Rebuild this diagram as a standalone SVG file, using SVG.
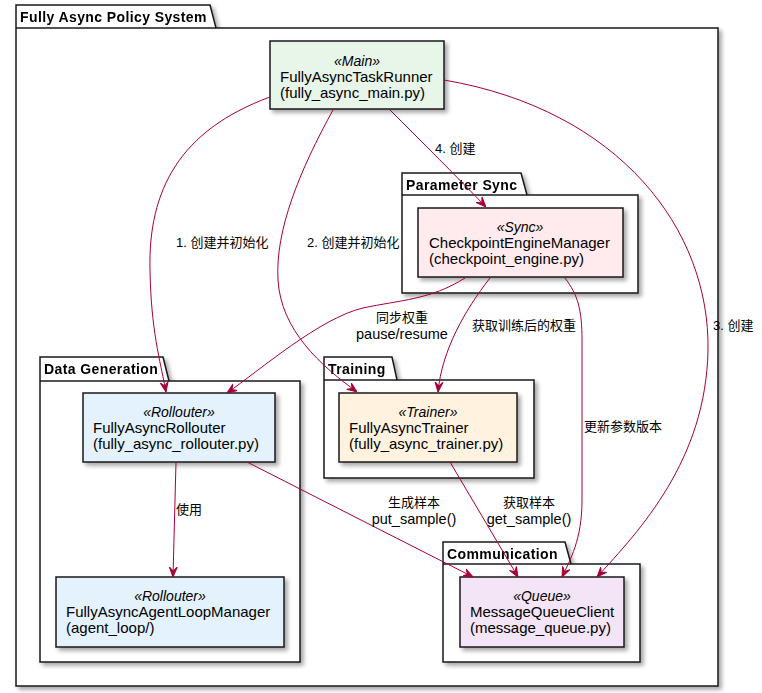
<svg xmlns="http://www.w3.org/2000/svg" width="762" height="693" viewBox="0 0 762 693">
<style>
.pkg{fill:#FFFFFF;stroke:#181818;stroke-width:1.5}
.pt{font-family:"Liberation Sans",Arial,sans-serif;font-size:14px;font-weight:bold;fill:#000;letter-spacing:0.4px}
.node{stroke:#181818;stroke-width:1.5}
.st{font-family:"Liberation Sans",Arial,sans-serif;font-size:14px;font-style:italic;fill:#000;text-anchor:middle}
.nt{font-family:"Liberation Sans",Arial,sans-serif;font-size:15px;fill:#000}
.e{fill:none;stroke:#A80036;stroke-width:1}
.lb{font-family:"Liberation Sans","Noto Sans CJK SC",Arial,sans-serif;font-size:13px;fill:#000}
.la{font-family:"Liberation Sans",Arial,sans-serif;font-size:14.5px;fill:#000}
.c{text-anchor:middle}
</style>
<defs>
<filter id="sh" x="-10%" y="-10%" width="130%" height="130%">
<feDropShadow dx="3" dy="3" stdDeviation="2" flood-color="#000" flood-opacity="0.35"/>
</filter>
<marker id="ah" viewBox="0 0 10 10" refX="10" refY="5" markerWidth="10" markerHeight="10" markerUnits="userSpaceOnUse" orient="auto">
<path d="M0,1 L10,5 L0,9 L4,5 Z" fill="#A80036" stroke="#A80036" stroke-width="1"/>
</marker>
</defs>
<rect width="762" height="693" fill="#FFFFFF"/>

<g id="pkg-system" filter="url(#sh)">
<path class="pkg" d="M16,28 L16,5 L210,5 L216,28 L718,28 L718,686 L16,686 Z"/>
<line x1="16" y1="28" x2="216" y2="28" stroke="#181818" stroke-width="1.5"/>
<text class="pt" x="20" y="22">Fully Async Policy System</text>
</g>
<g id="pkg-sync" filter="url(#sh)">
<path class="pkg" d="M402,195 L402,173 L521,173 L527,195 L638,195 L638,293 L402,293 Z"/>
<line x1="402" y1="195" x2="527" y2="195" stroke="#181818" stroke-width="1.5"/>
<text class="pt" x="406" y="190">Parameter Sync</text>
</g>
<g id="pkg-datagen" filter="url(#sh)">
<path class="pkg" d="M40,381 L40,357 L163,357 L169,381 L300,381 L300,662 L40,662 Z"/>
<line x1="40" y1="381" x2="169" y2="381" stroke="#181818" stroke-width="1.5"/>
<text class="pt" x="44" y="374">Data Generation</text>
</g>
<g id="pkg-training" filter="url(#sh)">
<path class="pkg" d="M324,380 L324,357 L392,357 L397,380 L534,380 L534,478 L324,478 Z"/>
<line x1="324" y1="380" x2="397" y2="380" stroke="#181818" stroke-width="1.5"/>
<text class="pt" x="328" y="374">Training</text>
</g>
<g id="pkg-comm" filter="url(#sh)">
<path class="pkg" d="M443,564 L443,542 L565,542 L571,564 L640,564 L640,662 L443,662 Z"/>
<line x1="443" y1="564" x2="571" y2="564" stroke="#181818" stroke-width="1.5"/>
<text class="pt" x="447" y="559">Communication</text>
</g>

<g id="main">
<rect class="node" x="270" y="41" width="174" height="68" fill="#E8F5E9" filter="url(#sh)"/>
<text class="st" x="357" y="66">«Main»</text>
<text class="nt" x="280" y="82">FullyAsyncTaskRunner</text>
<text class="nt" x="280" y="98">(fully_async_main.py)</text>
</g>
<g id="sync">
<rect class="node" x="418" y="208" width="205" height="69" fill="#FFEBEE" filter="url(#sh)"/>
<text class="st" x="520" y="232">«Sync»</text>
<text class="nt" x="429" y="248">CheckpointEngineManager</text>
<text class="nt" x="429" y="264">(checkpoint_engine.py)</text>
</g>
<g id="rollouter">
<rect class="node" x="83" y="393" width="192" height="69" fill="#E3F2FD" filter="url(#sh)"/>
<text class="st" x="179" y="417">«Rollouter»</text>
<text class="nt" x="93" y="433">FullyAsyncRollouter</text>
<text class="nt" x="93" y="449">(fully_async_rollouter.py)</text>
</g>
<g id="trainer">
<rect class="node" x="339" y="393" width="178" height="69" fill="#FFF3E0" filter="url(#sh)"/>
<text class="st" x="428" y="417">«Trainer»</text>
<text class="nt" x="349" y="433">FullyAsyncTrainer</text>
<text class="nt" x="349" y="449">(fully_async_trainer.py)</text>
</g>
<g id="agentloop">
<rect class="node" x="56" y="577" width="228" height="70" fill="#E3F2FD" filter="url(#sh)"/>
<text class="st" x="170" y="601">«Rollouter»</text>
<text class="nt" x="66" y="617">FullyAsyncAgentLoopManager</text>
<text class="nt" x="66" y="633">(agent_loop/)</text>
</g>
<g id="queue">
<rect class="node" x="460" y="577" width="164" height="70" fill="#F3E5F5" filter="url(#sh)"/>
<text class="st" x="542" y="601">«Queue»</text>
<text class="nt" x="470" y="617">MessageQueueClient</text>
<text class="nt" x="470" y="633">(message_queue.py)</text>
</g>

<g id="connectors">
<path class="e" marker-end="url(#ah)" d="M270,97 C180,130 148,190 150,270 C151,330 160,360 166,392"/>
<path class="e" marker-end="url(#ah)" d="M333,110 C300,170 275,230 278,280 C281,330 320,365 357,392"/>
<path class="e" marker-end="url(#ah)" d="M444,80 C620,110 710,230 708,350 C706,460 640,530 597,577"/>
<path class="e" marker-end="url(#ah)" d="M390,110 C420,140 460,180 486,207"/>
<path class="e" marker-end="url(#ah)" d="M465,278 C430,300 400,300 363,308 C320,318 260,370 227,393"/>
<path class="e" marker-end="url(#ah)" d="M490,278 C465,310 442,350 438,392"/>
<path class="e" marker-end="url(#ah)" d="M565,278 C578,295 582,310 582,340 L582,500 C582,540 570,560 562,577"/>
<path class="e" marker-end="url(#ah)" d="M176,462 L173,577"/>
<path class="e" marker-end="url(#ah)" d="M247,462 L473,577"/>
<path class="e" marker-end="url(#ah)" d="M450,462 L518,577"/>
<text class="lb" x="176" y="247">1. 创建并初始化</text>
<text class="lb" x="307" y="247">2. 创建并初始化</text>
<text class="lb" x="435" y="153">4. 创建</text>
<text class="lb" x="713" y="330">3. 创建</text>
<text class="lb c" x="402" y="322">同步权重</text>
<text class="la c" x="402" y="339">pause/resume</text>
<text class="lb" x="472" y="330">获取训练后的权重</text>
<text class="lb" x="584" y="431">更新参数版本</text>
<text class="lb" x="176" y="514">使用</text>
<text class="lb c" x="414" y="507">生成样本</text>
<text class="la c" x="414" y="524">put_sample()</text>
<text class="lb c" x="529" y="507">获取样本</text>
<text class="la c" x="529" y="524">get_sample()</text>
</g>
</svg>
